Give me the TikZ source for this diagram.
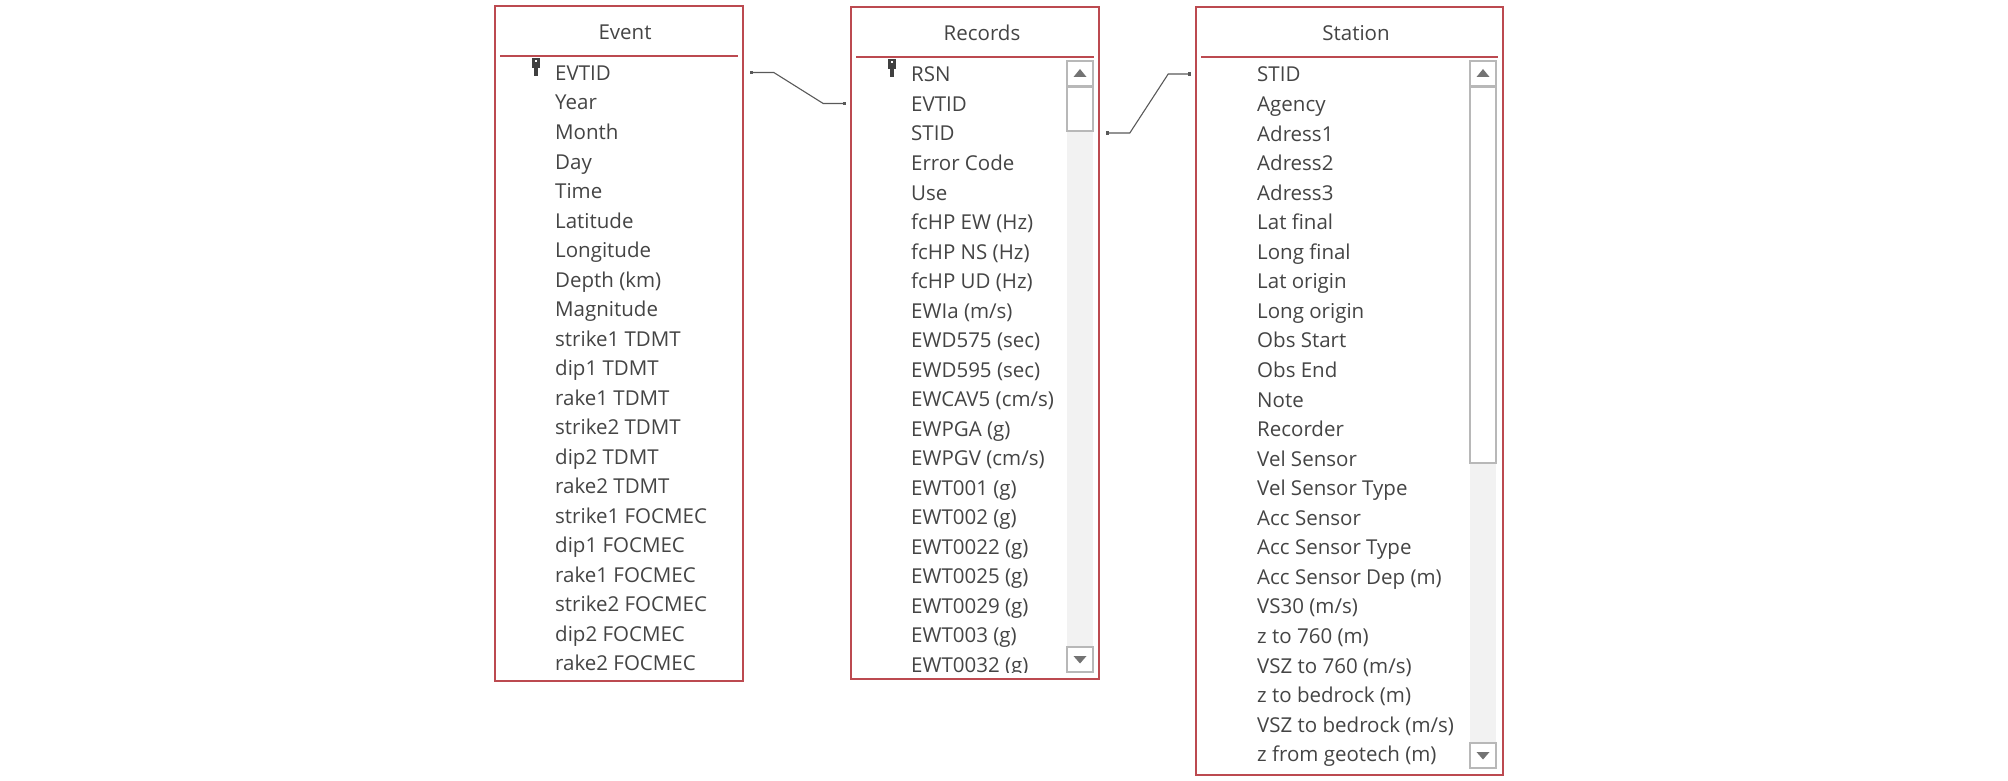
\documentclass[tikz,border=0pt]{standalone}
\usepackage{fontspec}
\setmainfont{Open Sans}
\usepackage{xcolor}
\usetikzlibrary{arrows.meta}
\definecolor{tablered}{HTML}{BC4A50}
\definecolor{rowgray}{HTML}{444444}
\tikzset{
  tablebox/.style={draw=tablered, line width=1.6pt, inner sep=0pt},
  rowtext/.style={anchor=west, inner sep=0pt, text=rowgray, font=\fontsize{20.5}{24}\selectfont, text height=18pt, text depth=2pt},
  titletext/.style={inner sep=0pt, text=rowgray, font=\fontsize{20.5}{24}\selectfont},
  titlerule/.style={tablered, line width=1.4pt},
  relation/.style={draw=black!65, line width=1.1pt, {Square[length=3.5pt,width=3.5pt]}-{Square[length=3.5pt,width=3.5pt]}},
  scrollpart/.style={draw=black!28, line width=1.2pt, fill=white}
}
\begin{document}
\begin{tikzpicture}[x=1pt, y=-1pt]
      \useasboundingbox (0, 0) rectangle (2008, 781);
      % rows
      \foreach \rowname [count=\i from 0] in {EVTID, Year, Month, Day, Time, Latitude, Longitude, Depth (km), Magnitude, strike1 TDMT, dip1 TDMT, rake1 TDMT, strike2 TDMT, dip2 TDMT, rake2 TDMT, strike1 FOCMEC, dip1 FOCMEC, rake1 FOCMEC, strike2 FOCMEC, dip2 FOCMEC, rake2 FOCMEC}
        \node[rowtext] (event\i) at (555, 72.5 + 29.5*\i) {\rowname};
      \foreach \rowname [count=\i from 0] in {RSN, EVTID, STID, Error Code, Use, fcHP EW (Hz), fcHP NS (Hz), fcHP UD (Hz), EWIa (m/s), EWD575 (sec), EWD595 (sec), EWCAV5 (cm/s), EWPGA (g), EWPGV (cm/s), EWT001 (g), EWT002 (g), EWT0022 (g), EWT0025 (g), EWT0029 (g), EWT003 (g), EWT0032 (g)}
        \node[rowtext] (records\i) at (911, 74 + 29.5*\i) {\rowname};
      \foreach \rowname [count=\i from 0] in {STID, Agency, Adress1, Adress2, Adress3, Lat final, Long final, Lat origin, Long origin, Obs Start, Obs End, Note, Recorder, Vel Sensor, Vel Sensor Type, Acc Sensor, Acc Sensor Type, Acc Sensor Dep (m), VS30 (m/s), z to 760 (m), VSZ to 760 (m/s), z to bedrock (m), VSZ to bedrock (m/s), z from geotech (m)}
        \node[rowtext] (station\i) at (1257, 74 + 29.55*\i) {\rowname};
      \fill[white] (853, 672.5) rectangle (1066, 678);
      % scroll bars
      \foreach \barx/\thumbend/\downtop in {1067/131/647, 1470/463/743} {
        \fill[black!5] (\barx, 86) rectangle (\barx + 26, \downtop);
        \draw[scrollpart] (\barx, 61) rectangle (\barx + 26, 86);
        \draw[scrollpart] (\barx, 87) rectangle (\barx + 26, \thumbend);
        \draw[scrollpart] (\barx, \downtop) rectangle (\barx + 26, \downtop + 25);
        \fill[black!55] (\barx + 13, 69) -- (\barx + 19.5, 77) -- (\barx + 6.5, 77) -- cycle;
        \fill[black!55] (\barx + 13, \downtop + 16.5) -- (\barx + 19.5, \downtop + 9) -- (\barx + 6.5, \downtop + 9) -- cycle;
      }
      % key icons
      \foreach \keyx/\keyy in {536/58, 892/59} {
        \fill[black!75] (\keyx - 4, \keyy) rectangle (\keyx + 4, \keyy + 10);
        \fill[black!75] (\keyx - 2.5, \keyy + 10) rectangle (\keyx + 2, \keyy + 18);
        \fill[white] (\keyx - 1, \keyy + 2.5) rectangle (\keyx + 1, \keyy + 4.5);
      }
      % tables
      \node[tablebox, minimum width=248pt, minimum height=675pt] (eventbox) at (619, 343.5) {};
      \node[tablebox, minimum width=248pt, minimum height=672pt] (recordsbox) at (975, 343) {};
      \node[tablebox, minimum width=307pt, minimum height=768pt] (stationbox) at (1349.5, 391) {};
      \node[titletext] (eventtitle) at (625, 32) {Event};
      \node[titletext] (recordstitle) at (982, 33) {Records};
      \node[titletext] (stationtitle) at (1356, 33) {Station};
      \draw[titlerule] (500, 56) -- (738, 56);
      \draw[titlerule] (856, 57) -- (1094, 57);
      \draw[titlerule] (1201, 57) -- (1498, 57);
      % relations
      \coordinate (eventkey) at ([xshift=6pt]eventbox.east |- event0);
      \coordinate (recordsevt) at ([xshift=-4pt]recordsbox.west |- records1);
      \coordinate (recordsst) at ([xshift=6pt]recordsbox.east |- records2);
      \coordinate (stationkey) at ([xshift=-4pt]stationbox.west |- station0);
      \draw[relation] (eventkey) -- ++(24, 0) -- ([xshift=-23pt]recordsevt) -- (recordsevt);
      \draw[relation] (recordsst) -- ++(24, 0) -- ([xshift=-23pt]stationkey) -- (stationkey);
    \end{tikzpicture}
\end{document}
